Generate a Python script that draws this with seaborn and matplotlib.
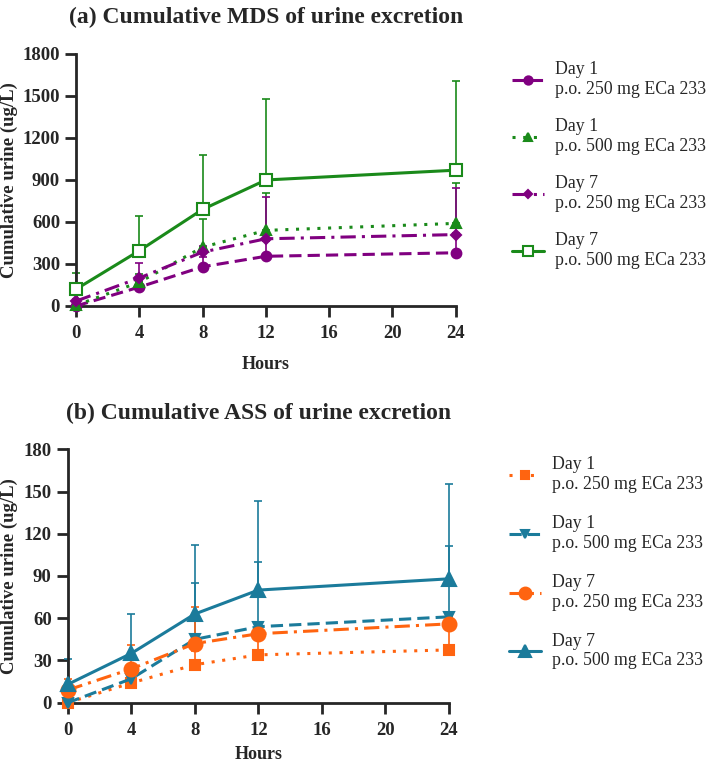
import matplotlib
matplotlib.use("Agg")
import matplotlib.pyplot as plt
import seaborn as sns
import numpy as np
import pandas as pd
from matplotlib.lines import Line2D

# time points (hours)
hours = [0, 4, 8, 12, 24]

# (a) MDS cumulative urine (ug/L): means and upper SD
mds_d1_250 = [0, 135, 280, 355, 380]
mds_d1_250_sd = [5, 40, 70, 110, 140]
mds_d1_500 = [5, 170, 420, 540, 590]
mds_d1_500_sd = [10, 60, 200, 270, 290]
mds_d7_250 = [35, 200, 385, 480, 510]
mds_d7_250_sd = [15, 110, 45, 300, 330]
mds_d7_500 = [120, 395, 690, 900, 970]
mds_d7_500_sd = [115, 245, 390, 580, 640]

# (b) ASS cumulative urine (ug/L)
ass_d1_250 = [0, 14, 27, 34, 37.5]
ass_d1_250_sd = [0.5, 4, 10, 15, 18]
ass_d1_500 = [0, 17, 45, 54, 61]
ass_d1_500_sd = [1, 6, 40, 46, 50]
ass_d7_250 = [9, 24, 42, 49, 56]
ass_d7_250_sd = [8, 17, 26, 6, 5]
ass_d7_500 = [13, 35, 63, 80, 88]
ass_d7_500_sd = [18, 28, 49, 63, 67]

labels = ["Day 1\np.o. 250 mg ECa 233", "Day 1\np.o. 500 mg ECa 233",
          "Day 7\np.o. 250 mg ECa 233", "Day 7\np.o. 500 mg ECa 233"]

purple = "#800080"
green = "#1a8a1a"
orange = "#ff6410"
teal = "#1b7b9b"

sns.set_theme(style="ticks")
plt.rcParams['font.family'] = ['Liberation Serif', 'DejaVu Serif']
plt.rcParams['axes.linewidth'] = 2.0


def draw_panel(ax, series, title, ymax, ystep, lab_x, ylab_x, xlab_y, lspace):
    for s in series:
        df = pd.DataFrame({'Hours': hours, 'val': s['y']})
        ax.errorbar(hours, s['y'], yerr=[np.zeros(len(hours)), s['sd']], fmt='none',
                    ecolor=s['color'], elinewidth=1.2, capsize=3, capthick=1.2,
                    zorder=2, clip_on=False)
        sns.lineplot(data=df, x='Hours', y='val', ax=ax, color=s['color'],
                     linestyle=s['ls'], linewidth=2.2, marker=s['marker'],
                     markersize=s['ms'], markerfacecolor=s['mfc'],
                     markeredgecolor=s['color'], markeredgewidth=1.5,
                     clip_on=False, zorder=3)
    ax.set_xlim(0, 24)
    ax.set_ylim(0, ymax)
    ax.set_xticks([0, 4, 8, 12, 16, 20, 24])
    ax.set_yticks(np.arange(0, ymax + 1, ystep))
    ax.tick_params(axis='both', width=2, length=8, labelsize=13.5, direction='out')
    ax.tick_params(axis='x', pad=6)
    for t in ax.get_xticklabels() + ax.get_yticklabels():
        t.set_fontweight('bold')
    sns.despine(ax=ax)
    ax.set_xlabel('Hours', fontsize=13, fontweight='bold')
    ax.set_ylabel('Cumulative urine (ug/L)', fontsize=13.5, fontweight='bold')
    ax.yaxis.set_label_coords(ylab_x, 0.5)
    ax.xaxis.set_label_coords(0.5, xlab_y)
    ax.set_title(title, fontsize=17, fontweight='bold', pad=22)
    handles = [Line2D([0], [0], color=s['color'], linestyle=s['ls'], linewidth=2.2,
                      marker=s['marker'], markersize=s['ms'] * 0.85,
                      markerfacecolor=s['mfc'], markeredgecolor=s['color'],
                      markeredgewidth=1.5) for s in series]
    ax.legend(handles, labels, loc='upper left', bbox_to_anchor=(lab_x, 1.0),
              frameon=False, fontsize=12.8, handlelength=1.8, labelspacing=lspace,
              handletextpad=0.6, borderaxespad=0)


fig = plt.figure(figsize=(7.11, 7.68), dpi=100)
ax1 = fig.add_axes([0.107, 0.6016, 0.534, 0.3281])
ax2 = fig.add_axes([0.0952, 0.085, 0.5363, 0.330])

series_a = [
    dict(y=mds_d1_250, sd=mds_d1_250_sd, color=purple, ls=(0, (4, 2)), marker='o', ms=7, mfc=purple),
    dict(y=mds_d1_500, sd=mds_d1_500_sd, color=green, ls=(0, (1, 2.5)), marker='^', ms=7, mfc=green),
    dict(y=mds_d7_250, sd=mds_d7_250_sd, color=purple, ls=(0, (5, 2, 1, 2)), marker='D', ms=5, mfc=purple),
    dict(y=mds_d7_500, sd=mds_d7_500_sd, color=green, ls='-', marker='s', ms=9, mfc='white'),
]
series_b = [
    dict(y=ass_d1_250, sd=ass_d1_250_sd, color=orange, ls=(0, (1, 2.5)), marker='s', ms=7, mfc=orange),
    dict(y=ass_d1_500, sd=ass_d1_500_sd, color=teal, ls=(0, (4, 2)), marker='v', ms=7, mfc=teal),
    dict(y=ass_d7_250, sd=ass_d7_250_sd, color=orange, ls=(0, (5, 2, 1, 2)), marker='o', ms=10, mfc=orange),
    dict(y=ass_d7_500, sd=ass_d7_500_sd, color=teal, ls='-', marker='^', ms=10, mfc=teal),
]

draw_panel(ax1, series_a, '(a) Cumulative MDS of urine excretion', 1800, 300, 1.13,
           -0.153, -0.2, 1.15)
draw_panel(ax2, series_b, '(b) Cumulative ASS of urine excretion', 180, 30, 1.14,
           -0.13, -0.17, 1.25)

fig.savefig('out.png', dpi=100)
